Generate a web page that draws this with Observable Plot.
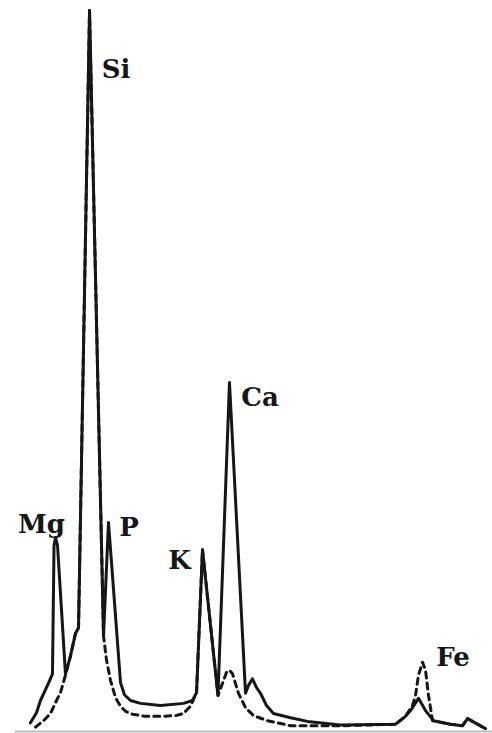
<!DOCTYPE html>
<html>
<head>
<meta charset="utf-8">
<script src="https://cdn.jsdelivr.net/npm/d3@7"></script>
<script src="https://cdn.jsdelivr.net/npm/@observablehq/plot@0.6"></script>
<style>
  html, body { margin: 0; padding: 0; background: #fff; }
</style>
</head>
<body>
<script>
// Energy (keV) and relative intensity for the solid spectrum
const solidEnergy = [0.912, 0.997, 1.053, 1.166, 1.222, 1.244, 1.265, 1.293, 1.405, 1.476, 1.546, 1.589, 1.744, 1.941, 2.011, 2.180, 2.236, 2.321, 2.462, 2.744, 3.067, 3.194, 3.251, 3.335, 3.553, 3.715, 3.941, 3.983, 4.039, 4.096, 4.152, 4.237, 4.335, 4.575, 4.814, 5.279, 6.053, 6.194, 6.265, 6.377, 6.476, 6.589, 6.828, 6.997, 7.068, 7.138, 7.321];
const solidCounts = [1.2, 2.6, 4.3, 6.7, 8.0, 25.8, 26.9, 25.8, 8.0, 10.5, 13.6, 14.4, 100, 13.3, 29.0, 6.8, 5.1, 4.3, 3.9, 3.6, 3.9, 4.3, 5.4, 25.2, 5.0, 48.4, 5.3, 6.4, 7.3, 6.1, 5.3, 3.6, 2.5, 1.9, 1.4, 0.9, 1.0, 2.1, 2.9, 4.6, 2.9, 1.5, 1.0, 0.8, 1.8, 1.4, 0.4];

// Energy (keV) and relative intensity for the dashed spectrum
const dashedEnergy = [0.983, 1.096, 1.194, 1.279, 1.335, 1.405, 1.476, 1.546, 1.589, 1.744, 1.941, 1.983, 2.039, 2.110, 2.180, 2.251, 2.349, 2.532, 2.744, 2.955, 3.067, 3.166, 3.251, 3.335, 3.553, 3.617, 3.673, 3.715, 3.758, 3.842, 3.941, 4.053, 4.251, 4.575, 4.955, 5.279, 6.053, 6.194, 6.293, 6.335, 6.377, 6.434, 6.476, 6.518, 6.575, 6.828, 6.997, 7.068, 7.138, 7.321];
const dashedCounts = [0.6, 1.5, 2.5, 4.3, 5.4, 7.8, 10.5, 13.6, 14.4, 100, 13.3, 9.9, 7.1, 4.7, 3.5, 2.8, 2.4, 2.1, 2.1, 2.2, 2.5, 3.5, 5.4, 25.2, 5.0, 6.7, 8.2, 8.5, 8.0, 5.3, 3.3, 2.2, 1.5, 0.8, 0.8, 0.8, 1.0, 2.1, 3.6, 5.0, 7.8, 9.6, 8.5, 5.0, 1.5, 1.0, 0.8, 1.8, 1.4, 0.4];

// Element labels
const labelNames = ["Mg", "Si", "P", "K", "Ca", "Fe"];
const labelEnergy = [1.067, 2.117, 2.300, 3.011, 4.145, 6.863];
const labelCounts = [28.7, 91.8, 28.3, 23.7, 46.3, 10.3];

const solid = solidEnergy.map((e, i) => ({e, c: solidCounts[i]}));
const dashed = dashedEnergy.map((e, i) => ({e, c: dashedCounts[i]}));
const labels = labelNames.map((name, i) => ({name, e: labelEnergy[i], c: labelCounts[i]}));

const ink = "#161616";

const chart = Plot.plot({
  width: 492,
  height: 733,
  marginLeft: 0,
  marginRight: 0,
  marginTop: 10,
  marginBottom: 2,
  x: {domain: [0.49, 0.49 + 492 / 71], axis: null},
  y: {domain: [0, 100], axis: null},
  style: {background: "#fff"},
  marks: [
    Plot.ruleY([0], {x1: 0.70, x2: 7.42, stroke: "#bdbdbd", strokeWidth: 2}),
    Plot.line(dashed, {x: "e", y: "c", stroke: ink, strokeWidth: 3, strokeDasharray: "6,5", strokeLinejoin: "round"}),
    Plot.line(solid, {x: "e", y: "c", stroke: ink, strokeWidth: 3, strokeLinejoin: "round", strokeLinecap: "round"}),
    Plot.text(labels, {x: "e", y: "c", text: "name", fill: ink, fontSize: 26, fontWeight: "bold", fontFamily: "DejaVu Serif"})
  ]
});

document.body.appendChild(chart);
</script>
</body>
</html>
